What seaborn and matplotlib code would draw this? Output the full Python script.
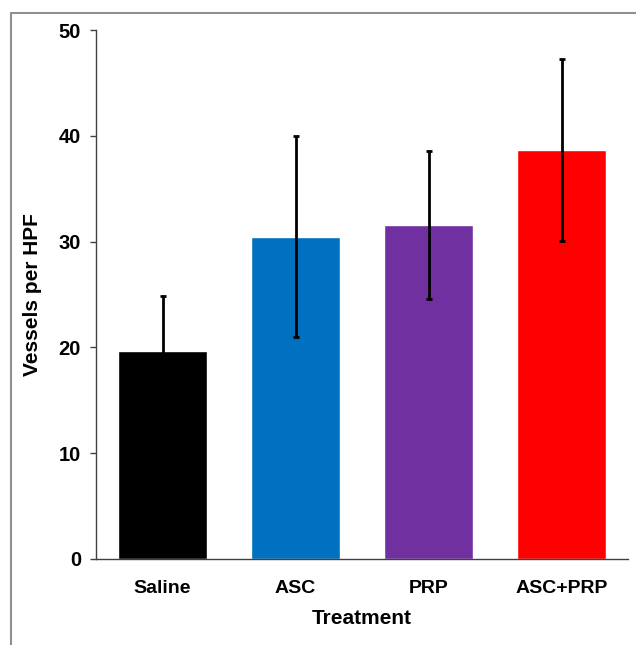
import numpy as np
import pandas as pd
import matplotlib
matplotlib.use("Agg")
import matplotlib.pyplot as plt
from matplotlib.lines import Line2D
import seaborn as sns

# --- Data ---
treatments = ["Saline", "ASC", "PRP", "ASC+PRP"]
vessels = [19.7, 30.45, 31.6, 38.7]
errors = [5.2, 9.5, 7.0, 8.6]
bar_colors = ["#000000", "#0070C0", "#7030A0", "#FF0000"]
y_ticks = [0, 10, 20, 30, 40, 50]

df = pd.DataFrame({"Treatment": treatments, "Vessels": vessels})

sns.set_style("white")
plt.rcParams["font.family"] = ["Liberation Sans", "DejaVu Sans"]
plt.rcParams["font.weight"] = "bold"
plt.rcParams["text.color"] = "black"
plt.rcParams["axes.labelcolor"] = "black"
plt.rcParams["xtick.color"] = "black"
plt.rcParams["ytick.color"] = "black"

fig = plt.figure(figsize=(6.36, 6.45), dpi=100)
ax = fig.add_axes([96 / 636, 86 / 645, 532 / 636, 529 / 645])

sns.barplot(data=df, x="Treatment", y="Vessels", hue="Treatment",
            palette=bar_colors, width=0.67, errorbar=None, legend=False,
            saturation=1, ax=ax)
ax.errorbar(np.arange(len(treatments)), vessels, yerr=errors, fmt="none",
            ecolor="black", elinewidth=2, capsize=2.5, capthick=2, zorder=5)

ax.set_xlim(-0.5, len(treatments) - 0.5)
ax.set_ylim(0, 50)
ax.set_yticks(y_ticks)
ax.set_yticklabels([str(t) for t in y_ticks], fontsize=14.5, fontweight="bold")

# Excel-style category axis: labels centred, tick marks between categories
ax.set_xticks(np.arange(len(treatments)))
ax.set_xticklabels(treatments, fontsize=14, fontweight="bold")
ax.tick_params(axis="x", which="major", length=0, pad=15)
ax.set_xticks(np.arange(len(treatments)) + 0.5, minor=True)
ax.tick_params(axis="x", which="minor", length=3.6, width=1, color="#404040", direction="out")
ax.tick_params(axis="y", length=4.3, width=1, color="#404040", labelcolor="black",
               direction="out", pad=6.5, left=True)

ax.set_xlabel("Treatment", fontsize=15, fontweight="bold", labelpad=9)
ax.set_ylabel("Vessels per HPF", fontsize=15, fontweight="bold", labelpad=12)

for side in ["top", "right"]:
    ax.spines[side].set_visible(False)
for side in ["left", "bottom"]:
    ax.spines[side].set_color("#404040")
    ax.spines[side].set_linewidth(1)

# outer frame (left and top edges)
fig.add_artist(Line2D([11 / 636, 11 / 636], [0, 1 - 13 / 645], transform=fig.transFigure,
                      color="#909090", linewidth=1.5))
fig.add_artist(Line2D([11 / 636, 1], [1 - 13 / 645, 1 - 13 / 645], transform=fig.transFigure,
                      color="#909090", linewidth=1.5))

fig.savefig("out.png", dpi=100)
